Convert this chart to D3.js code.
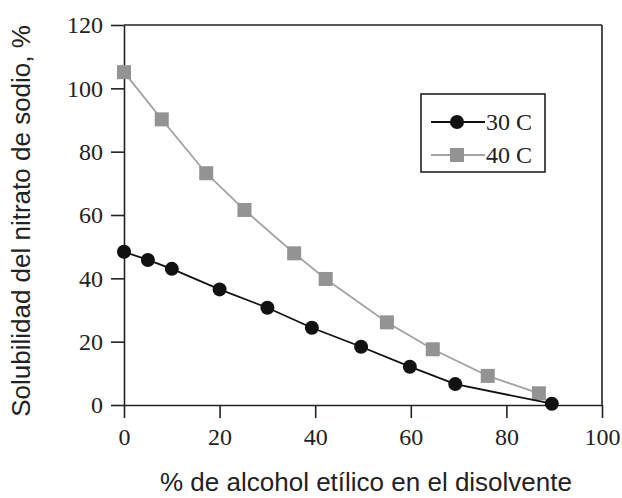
<!DOCTYPE html>
<html>
<head>
<meta charset="utf-8">
<script src="https://cdn.jsdelivr.net/npm/d3@7"></script>
<style>
  html, body { margin: 0; padding: 0; background: #fff; }
  svg { display: block; }
</style>
</head>
<body>
<svg id="chart" width="622" height="498"></svg>
<script>
// Solubility of sodium nitrate vs. ethanol fraction in the solvent
const alcohol30 = [0, 5, 10, 20, 30, 39.3, 49.6, 59.8, 69.3, 89.5];
const solub30   = [48.4, 45.8, 43.0, 36.5, 30.7, 24.4, 18.4, 12.1, 6.6, 0.4];
const alcohol40 = [0, 7.9, 17.2, 25.2, 35.6, 42.2, 55.0, 64.6, 76.1, 86.8];
const solub40   = [105.1, 90.2, 73.2, 61.6, 47.9, 39.8, 26.1, 17.6, 9.2, 3.7];
const xTicks = [0, 20, 40, 60, 80, 100];
const yTicks = [0, 20, 40, 60, 80, 100, 120];
const seriesNames = ["30 C", "40 C"];
const xTitle = "% de alcohol etílico en el disolvente";
const yTitle = "Solubilidad del nitrato de sodio, %";

const svg = d3.select("#chart");
const plotLeft = 124, plotRight = 602, plotTop = 25, plotBottom = 405;
const x = d3.scaleLinear().domain([0, 100]).range([plotLeft, plotRight]);
const y = d3.scaleLinear().domain([0, 120]).range([plotBottom, plotTop]);

const axisColor = "#222";
const serif = "'Liberation Serif', 'Times New Roman', serif";
const sans = "'Liberation Sans', Arial, Helvetica, sans-serif";

// frame top and right edges
svg.append("line").attr("x1", plotLeft).attr("x2", plotRight).attr("y1", plotTop).attr("y2", plotTop)
  .attr("stroke", axisColor).attr("stroke-width", 1.6);
svg.append("line").attr("x1", plotRight).attr("x2", plotRight).attr("y1", plotTop).attr("y2", plotBottom)
  .attr("stroke", axisColor).attr("stroke-width", 1.6);

const xAxis = svg.append("g").attr("transform", `translate(0,${plotBottom})`)
  .call(d3.axisBottom(x).tickValues(xTicks).tickSize(13).tickPadding(10).tickSizeOuter(0));
const yAxis = svg.append("g").attr("transform", `translate(${plotLeft},0)`)
  .call(d3.axisLeft(y).tickValues(yTicks).tickSize(13).tickPadding(8).tickSizeOuter(0));

[xAxis, yAxis].forEach(g => {
  g.selectAll("path, line").attr("stroke", axisColor).attr("stroke-width", 1.6);
  g.selectAll("text").attr("fill", "#222").style("font-family", serif).style("font-size", "24px");
});

// axis titles
svg.append("text").attr("x", 366).attr("y", 491)
  .attr("text-anchor", "middle").style("font-family", sans).style("font-size", "26px")
  .attr("fill", "#222").text(xTitle);
svg.append("text").attr("transform", "translate(30,221) rotate(-90)")
  .attr("text-anchor", "middle").style("font-family", sans).style("font-size", "26px")
  .attr("fill", "#222").text(yTitle);

const line = d3.line().x(d => x(d[0])).y(d => y(d[1]));
const d40 = alcohol40.map((a, i) => [a, solub40[i]]);
const d30 = alcohol30.map((a, i) => [a, solub30[i]]);
const gray = "#a3a3a3", grayFill = "#939393", black = "#111";

svg.append("path").datum(d40).attr("d", line).attr("fill", "none")
  .attr("stroke", gray).attr("stroke-width", 1.8);
svg.selectAll("rect.s40").data(d40).join("rect").attr("class", "s40")
  .attr("x", d => x(d[0]) - 7).attr("y", d => y(d[1]) - 7)
  .attr("width", 14).attr("height", 14).attr("fill", grayFill);

svg.append("path").datum(d30).attr("d", line).attr("fill", "none")
  .attr("stroke", black).attr("stroke-width", 1.8);
svg.selectAll("circle.s30").data(d30).join("circle").attr("class", "s30")
  .attr("cx", d => x(d[0])).attr("cy", d => y(d[1])).attr("r", 7).attr("fill", black);

// legend
const lg = svg.append("g");
lg.append("rect").attr("x", 421).attr("y", 94).attr("width", 124).attr("height", 78)
  .attr("fill", "#fff").attr("stroke", axisColor).attr("stroke-width", 1.6);
const rows = [
  { name: seriesNames[0], y: 122, color: black, shape: "circle" },
  { name: seriesNames[1], y: 155, color: gray, shape: "square" }
];
rows.forEach(r => {
  lg.append("line").attr("x1", 431).attr("x2", 485).attr("y1", r.y).attr("y2", r.y)
    .attr("stroke", r.color).attr("stroke-width", 1.8);
  if (r.shape === "circle") {
    lg.append("circle").attr("cx", 457).attr("cy", r.y).attr("r", 7).attr("fill", black);
  } else {
    lg.append("rect").attr("x", 450).attr("y", r.y - 7).attr("width", 14).attr("height", 14).attr("fill", grayFill);
  }
  lg.append("text").attr("x", 486).attr("y", r.y).attr("dy", "0.33em")
    .style("font-family", serif).style("font-size", "24px").attr("fill", "#222").text(r.name);
});
</script>
</body>
</html>
